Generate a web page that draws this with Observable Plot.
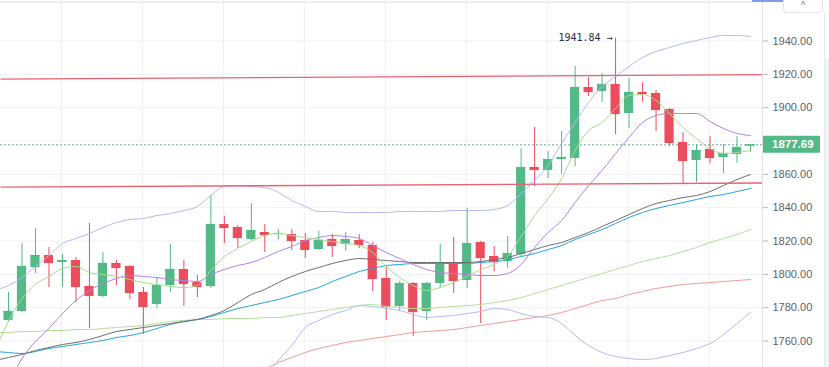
<!DOCTYPE html>
<html><head><meta charset="utf-8">
<script src="https://cdn.jsdelivr.net/npm/d3@7"></script>
<script src="https://cdn.jsdelivr.net/npm/@observablehq/plot@0.6"></script>
<style>
html,body{margin:0;padding:0;background:#fff;}
#wrap{position:relative;width:829px;height:367px;overflow:hidden;background:#fff;font-family:'Liberation Sans',Arial,sans-serif;}
#wrap svg{position:absolute;left:0;top:0;}
.deco{position:absolute;}
</style></head><body><div id="wrap"></div>
<script>
// ---- candles (daily OHLC) ----
const open  = [1772.3,1777.7,1804.1,1811.3,1807.1,1808.3,1792.7,1786.7,1806.5,1804.7,1789.1,1781.9,1793.3,1802.9,1795.1,1792.7,1829.9,1828.1,1820.9,1825.1,1823.9,1823.9,1820.3,1814.9,1820.9,1817.9,1820.3,1817.3,1797.5,1780.7,1794.5,1777.7,1794.5,1807.1,1796.3,1819.1,1810.7,1807.7,1811.9,1864.1,1862.3,1868.9,1869.5,1912.1,1909.7,1913.9,1896.5,1909.1,1908.5,1898.9,1879.1,1868.3,1874.9,1870.1,1871.9,1877.0];
const high  = [1789.1,1818.5,1827.5,1816.1,1811.9,1810.1,1830.5,1813.1,1808.3,1805.3,1792.1,1798.1,1817.9,1808.3,1799.3,1847.3,1834.7,1829.3,1842.5,1829.9,1826.9,1826.9,1824.5,1825.7,1823.9,1825.1,1823.9,1819.1,1804.1,1795.7,1795.1,1795.0,1817.9,1822.1,1839.5,1819.7,1816.7,1822.7,1875.5,1888.1,1873.7,1885.7,1924.7,1918.1,1920.5,1941.84,1917.5,1915.1,1910.3,1899.5,1885.1,1877.9,1882.7,1877.9,1882.7,1877.9];
const low   = [1771.7,1777.1,1800.5,1792.1,1792.1,1783.1,1767.5,1786.1,1793.3,1784.9,1763.9,1779.5,1789.1,1780.7,1786.1,1791.5,1818.5,1815.5,1820.3,1813.1,1820.9,1814.3,1809.5,1814.3,1810.1,1813.7,1815.5,1789.7,1772.3,1777.7,1762.7,1772.3,1792.1,1788.5,1791.5,1770.5,1801.7,1803.5,1810.7,1852.7,1857.5,1859.9,1864.7,1906.7,1903.1,1883.9,1887.5,1903.1,1885.7,1876.7,1854.5,1855.1,1866.5,1860.5,1866.5,1873.1];
const close = [1777.7,1804.7,1811.3,1807.1,1808.3,1792.7,1787.3,1806.5,1804.1,1789.1,1780.7,1793.3,1802.9,1794.5,1792.7,1829.9,1828.1,1822.1,1826.3,1823.9,1824.5,1820.3,1814.9,1820.3,1817.3,1820.9,1817.9,1797.5,1780.7,1794.5,1777.7,1794.5,1807.1,1796.3,1818.5,1810.1,1807.7,1812.5,1864.1,1862.9,1868.9,1870.1,1912.1,1909.7,1913.9,1896.5,1909.1,1908.5,1898.9,1879.1,1868.3,1874.3,1870.1,1872.5,1876.1,1877.69];

// ---- indicator series: first value belongs to the bar before the first candle (index -1) ----
const maFast = [1754.3,1771.7,1785.5,1793.9,1798.7,1803.5,1804.7,1801.1,1799.9,1798.7,1796.9,1795.1,1793.9,1792.7,1792.1,1793.3,1802.3,1810.7,1815.5,1819.7,1823.3,1824.5,1823.3,1822.1,1820.9,1819.7,1818.5,1817.3,1813.1,1804.7,1798.1,1793.3,1790.3,1792.1,1795.1,1798.7,1802.9,1805.9,1810.7,1822.7,1835.3,1845.5,1857.5,1874.3,1886.3,1891.1,1899.5,1907.3,1907.9,1904.3,1896.5,1888.1,1881.5,1875.5,1872.5,1873.1,1874.3];
const maMid  = [1727.3,1735.1,1749.5,1759.7,1767.5,1776.5,1784.3,1790.3,1794.5,1797.5,1799.3,1798.7,1798.1,1796.9,1796.3,1795.7,1799.9,1802.9,1805.3,1807.1,1810.1,1813.7,1816.7,1820.3,1822.1,1823.3,1822.7,1821.5,1817.3,1813.1,1809.5,1805.9,1802.9,1801.1,1800.5,1799.9,1799.3,1799.3,1800.5,1805.9,1816.1,1825.1,1832.3,1843.1,1853.3,1862.3,1872.5,1882.1,1891.1,1895.3,1896.5,1896.5,1896.5,1891.7,1887.5,1884.5,1883.3];
const maGray = [1748.3,1750.1,1751.9,1754.3,1756.1,1757.9,1759.1,1760.9,1763.3,1765.7,1766.9,1768.1,1769.3,1770.5,1771.7,1772.9,1775.3,1778.3,1783.1,1787.9,1790.9,1795.1,1798.7,1801.7,1804.1,1806.5,1808.3,1809.5,1808.9,1808.3,1807.7,1807.1,1807.1,1807.1,1807.1,1807.1,1807.7,1808.9,1810.1,1812.5,1814.9,1817.3,1819.1,1822.1,1825.1,1828.7,1832.3,1835.9,1839.5,1842.5,1844.3,1846.1,1847.3,1849.7,1853.3,1856.9,1859.9];
const maBlue = [1753.7,1753.1,1752.5,1753.7,1755.5,1756.7,1757.9,1759.1,1760.3,1762.1,1763.3,1765.1,1767.5,1769.9,1771.7,1772.9,1774.7,1777.1,1779.5,1781.3,1783.1,1784.9,1787.3,1789.7,1792.1,1795.7,1798.7,1801.7,1803.5,1805.3,1805.9,1806.5,1806.5,1806.5,1806.5,1806.5,1807.1,1807.7,1808.9,1810.7,1812.5,1814.9,1817.3,1820.9,1823.9,1826.9,1830.5,1834.1,1837.1,1839.5,1841.3,1843.1,1844.9,1846.7,1847.9,1849.7,1851.5];
const maSlow = [1765.1,1765.1,1765.7,1765.7,1766.3,1766.3,1766.9,1766.9,1767.5,1768.1,1768.7,1769.3,1770.5,1771.7,1772.3,1772.9,1772.9,1773.5,1773.5,1773.5,1774.1,1774.1,1775.3,1776.5,1777.7,1778.9,1780.1,1781.3,1781.9,1780.7,1780.1,1779.5,1779.5,1780.1,1780.7,1781.3,1781.9,1783.1,1784.3,1786.1,1788.5,1790.9,1793.3,1795.7,1798.1,1800.5,1802.9,1805.3,1807.7,1809.5,1811.3,1813.7,1816.1,1819.1,1821.5,1823.9,1826.9];
const ma200  = [null,null,null,null,null,null,null,null,null,null,null,null,null,null,null,null,1736.3,1738.1,1739.9,1741.7,1743.5,1747.1,1750.1,1753.1,1755.5,1757.3,1759.1,1760.3,1761.5,1762.7,1763.9,1765.1,1765.7,1766.3,1766.9,1768.1,1769.3,1770.5,1771.7,1772.9,1774.1,1775.3,1777.1,1779.5,1781.9,1784.3,1785.5,1787.9,1789.7,1791.5,1792.7,1793.9,1794.5,1795.1,1795.7,1796.3,1796.9];
const bbUpper = [1790.3,1793.3,1798.1,1804.7,1811.3,1818.5,1821.5,1824.5,1828.1,1831.1,1832.9,1833.5,1835.3,1836.5,1838.3,1840.7,1847.3,1852.7,1853.3,1852.7,1852.1,1849.1,1844.3,1840.7,1837.7,1837.7,1837.1,1837.1,1837.1,1837.1,1837.7,1837.7,1837.7,1837.7,1838.3,1838.3,1838.3,1838.9,1841.3,1848.5,1856.3,1865.3,1878.5,1891.1,1903.1,1912.7,1918.7,1924.7,1930.1,1933.7,1936.1,1938.5,1940.3,1942.1,1943.3,1943.3,1942.7];
const bbLower = [null,null,null,null,null,null,null,null,null,null,null,null,null,null,null,null,null,null,1712.3,1724.3,1737.5,1748.3,1757.3,1768.1,1772.3,1775.9,1778.3,1781.3,1780.7,1779.5,1778.3,1775.9,1774.1,1774.7,1775.3,1776.5,1777.7,1779.5,1778.9,1776.5,1774.7,1774.1,1770.5,1763.3,1757.3,1753.1,1750.7,1749.5,1748.9,1749.5,1751.3,1753.1,1755.5,1758.5,1763.9,1770.5,1777.1];

// ---- drawn horizontal levels (value at left edge, value at right edge) ----
const resistance = [1917.1, 1919.8];
const support    = [1852.3, 1854.8];

// ---- axis ticks ----
const yTickLabels = [1760, 1780, 1800, 1820, 1840, 1860, 1900, 1920, 1940];
const yGrid = [1760, 1780, 1800, 1820, 1840, 1860, 1880, 1900, 1920, 1940];

const UP = "#53b987", DOWN = "#eb4d5c";
const n = close.length;
const xDomain = [-0.593, n - 1 + 0.89];
const yDomain = [1744.1, 1964.3];
const xGrid = d3.range(3.93, n, 6);

const candles = close.map((c, i) => ({i, o: open[i], h: high[i], l: low[i], c, col: c >= open[i] ? UP : DOWN}));
const series = (arr, stroke) => Plot.line(arr, {x: (d, k) => k - 1, y: d => d, stroke, strokeWidth: 1, curve: "monotone-x", clip: true});

const hiIdx = d3.maxIndex(high);
const last = close[n - 1];

const plot = Plot.plot({
  width: 829, height: 367,
  marginLeft: 0, marginRight: 67, marginTop: 0, marginBottom: 0,
  x: {domain: xDomain, axis: null},
  y: {domain: yDomain},
  color: {type: "identity"},
  style: {fontFamily: "'Liberation Sans', Arial, sans-serif", fontSize: "11px", background: "transparent", color: "#5d606b", overflow: "visible"},
  marks: [
    Plot.ruleY(yGrid, {stroke: "#eef0f4", strokeWidth: 1}),
    Plot.ruleX(xGrid, {stroke: "#eef0f4", strokeWidth: 1}),
    Plot.ruleY([last], {stroke: "#4e9a80", strokeDasharray: "2,2", strokeWidth: 1, strokeOpacity: 0.85}),
    Plot.ruleX(candles, {x: "i", y1: "l", y2: "h", stroke: "col", strokeWidth: 1}),
    Plot.rect(candles, {x1: d => d.i - 0.34, x2: d => d.i + 0.34, y1: "o", y2: "c", fill: "col"}),
    Plot.ruleY(candles, {y: "c", x1: d => d.i - 0.34, x2: d => d.i + 0.34, stroke: "col", strokeWidth: 1.2}),
    series(ma200, "#f59a94"),
    series(maSlow, "#b3df9c"),
    series(bbUpper, "#b4baf2"),
    series(bbLower, "#b4baf2"),
    series(maBlue, "#27a4d8"),
    series(maGray, "#6e6e6e"),
    series(maMid, "#b282e8"),
    series(maFast, "#a6dc8c"),
    Plot.link([resistance, support], {x1: () => xDomain[0], x2: () => xDomain[1], y1: d => d[0], y2: d => d[1], stroke: "#ee5f6d", strokeWidth: 1.4}),
    Plot.text([hiIdx], {x: d => d, y: d => high[d], text: d => d3.format(".2f")(high[d]) + " \u2192", textAnchor: "end", dx: -3, fill: "#2a2e39", fontSize: 10, fontFamily: "'DejaVu Sans Mono', monospace"}),
    Plot.axisY(yTickLabels, {anchor: "right", tickFormat: d3.format(".2f"), tickSize: 5, tickPadding: 5, label: null, stroke: "#b2b5be", fill: "#5d606b", fontSize: 11})
  ]
});

const wrap = document.getElementById("wrap");
wrap.appendChild(plot);

// current price tag on the axis
const svg = d3.select(plot);
const py = plot.scale("y").apply(last);
svg.append("rect").attr("x", 763).attr("y", py - 8.5).attr("width", 57).attr("height", 17).attr("rx", 1).attr("fill", UP);
svg.append("text").attr("x", 772).attr("y", py).attr("dy", "0.36em").attr("text-anchor", "start").attr("fill", "#fff").attr("font-weight", "bold").attr("font-size", 11.5).attr("font-family", "'Liberation Sans', Arial, sans-serif").text(d3.format(".2f")(last));

// chrome: price-scale border, top border, scroll button
function deco(css, html) { const d = document.createElement("div"); d.className = "deco"; d.style.cssText = css; if (html) d.innerHTML = html; wrap.appendChild(d); }
deco("left:762px;top:0;width:1px;height:367px;background:#e0e3eb;");
deco("left:0;top:1px;width:752px;height:2px;background:#eceef2;");
deco("left:752px;top:0;width:71px;height:2px;background:#7d9be6;");
deco("left:783px;top:-4px;width:38px;height:15px;border:1px solid #e0e3eb;border-radius:4px;background:#fff;text-align:center;font-size:10px;line-height:18px;color:#787b86;", "^");
deco("left:824px;top:12px;width:1px;height:355px;background:#e8eaef;");
deco("left:825px;top:58px;width:4px;height:309px;background:#f1f3f7;");
</script></body></html>
